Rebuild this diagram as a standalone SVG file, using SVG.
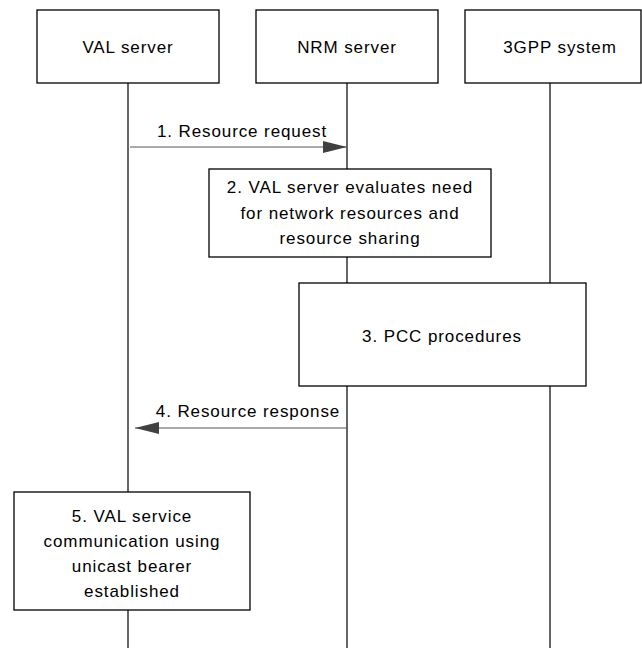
<svg xmlns="http://www.w3.org/2000/svg" width="642" height="648" viewBox="0 0 642 648">
<style>
.box{fill:#fff;stroke:#000;stroke-width:1.3}
.life{stroke:#000;stroke-width:1.2;fill:none}
.msg{stroke:#555;stroke-width:1.2;fill:none}
text{font-family:"Liberation Sans",Arial,sans-serif;font-size:17px;letter-spacing:0.9px;fill:#000;text-anchor:middle}
</style>
<defs>
<marker id="ah" markerWidth="24" markerHeight="12" refX="24" refY="6" orient="auto" markerUnits="userSpaceOnUse">
<path d="M0,0 L24,6 L0,12 Z" fill="#404040"/>
</marker>
</defs>
<g id="lifelines">
<line class="life" x1="128" y1="83" x2="128" y2="648"/>
<line class="life" x1="347" y1="83" x2="347" y2="648"/>
<line class="life" x1="550" y1="83" x2="550" y2="648"/>
</g>
<g id="val"><rect class="box" x="37" y="10" width="182" height="73"/><text x="128" y="53">VAL server</text></g>
<g id="nrm"><rect class="box" x="256" y="10" width="182" height="73"/><text x="347" y="53">NRM server</text></g>
<g id="gpp"><rect class="box" x="465" y="10" width="176" height="73"/><text x="560" y="53">3GPP system</text></g>
<g id="connectors">
<line class="msg" x1="130" y1="147" x2="347" y2="147" marker-end="url(#ah)"/>
<text x="242" y="137">1. Resource request</text>
<line class="msg" x1="347" y1="428" x2="135" y2="428" marker-end="url(#ah)"/>
<text x="248" y="417">4. Resource response</text>
</g>
<g id="step2"><rect class="box" x="209" y="169" width="282" height="88"/>
<text x="350" y="193">2. VAL server evaluates need</text>
<text x="350" y="219">for network resources and</text>
<text x="350" y="244">resource sharing</text></g>
<g id="step3"><rect class="box" x="299" y="283" width="287" height="103"/>
<text x="442" y="342">3. PCC procedures</text></g>
<g id="step5"><rect class="box" x="14" y="492" width="236" height="118"/>
<text x="132" y="522">5. VAL service</text>
<text x="132" y="547">communication using</text>
<text x="132" y="572">unicast bearer</text>
<text x="132" y="597">established</text></g>
</svg>
